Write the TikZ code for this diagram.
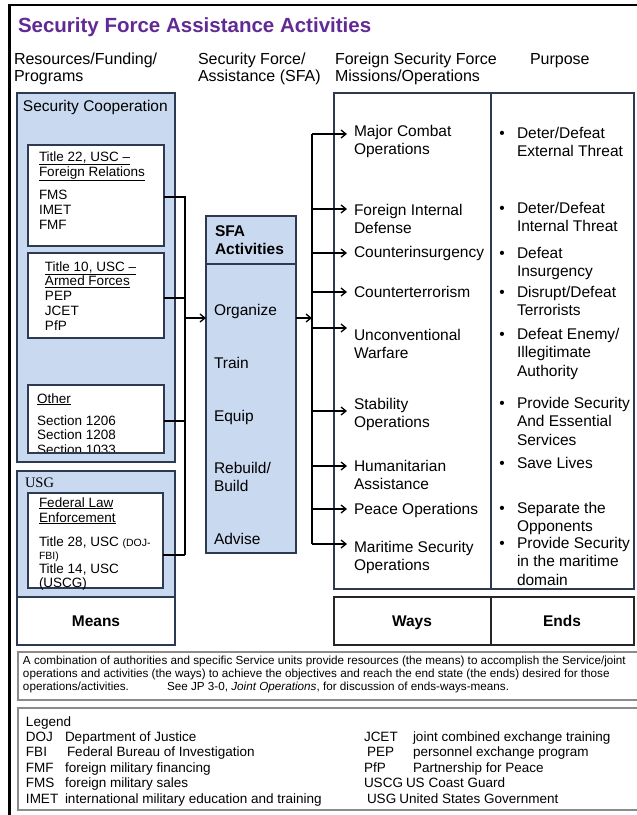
\documentclass[tikz,border=0pt]{standalone}
\usepackage{fontspec}
\setmainfont{Liberation Sans}
\newfontfamily\seriffam{Liberation Serif}
\usetikzlibrary{arrows.meta}
\definecolor{sfablue}{RGB}{200,217,240}
\definecolor{sfaedge}{RGB}{45,58,82}
\definecolor{sfapurple}{RGB}{98,42,148}
\definecolor{notegray}{RGB}{140,140,140}
\newcommand\fsz[2]{\fontsize{#1}{#2}\selectfont}
\newcommand\lns[1]{\begin{tabular}[t]{@{}l@{}}#1\end{tabular}}
\tikzset{
 txt/.style={anchor=base west, inner sep=0pt, outer sep=0pt, font=\fsz{15.5}{18.5}},
 smalltxt/.style={txt, font=\fsz{13.5}{15}},
 boxnode/.style={anchor=north west, inner sep=0pt, outer sep=0pt, line width=1.2pt, draw=sfaedge},
 bluebox/.style={boxnode, fill=sfablue},
 whitebox/.style={boxnode, fill=white},
 conn/.style={line width=1.6pt, draw=black},
 arr/.style={conn, -{Straight Barb[length=5pt, width=8pt, line width=1.3pt]}},
 notebox/.style={anchor=north west, inner sep=0pt, draw=notegray, line width=1.6pt, fill=white},
}
\begin{document}
\begin{tikzpicture}[x=1pt,y=-1pt]
\useasboundingbox (0,0) rectangle (637,815);
\fill[white] (0,0) rectangle (637,815);
% outer frame
\draw[line width=2.5pt] (9.5,815) -- (9.5,5) -- (637,5);

% title and headers
\node[txt, font=\fsz{20.5}{24}\bfseries, text=sfapurple] (title) at (18,32) {Security Force Assistance Activities};
\node[txt, font=\fsz{16}{17.5}] (h1) at (14,64) {\lns{Resources/Funding/\\Programs}};
\node[txt, font=\fsz{16}{17.5}] (h2) at (198,64) {\lns{Security Force/\\Assistance (SFA)}};
\node[txt, font=\fsz{16}{17.5}] (h3) at (335,64) {\lns{Foreign Security Force\\Missions/Operations}};
\node[txt, font=\fsz{16}{17.5}] (h4) at (530,64) {Purpose};

% left column: means
\node[bluebox, minimum width=158pt, minimum height=369pt] (scbox) at (17,93) {};
\node[txt] (sctxt) at (23,111) {Security Cooperation};
\node[whitebox, minimum width=136pt, minimum height=101pt] (t22) at (28,145) {};
\node[smalltxt] (t22txt) at (39,161) {\lns{\underline{Title 22, USC –}\\\underline{Foreign Relations}\\[8.5pt]FMS\\IMET\\FMF}};
\node[whitebox, minimum width=136pt, minimum height=85pt] (t10) at (28,253) {};
\node[smalltxt, font=\fsz{13.5}{14.75}] (t10txt) at (45,271) {\lns{\underline{Title 10, USC –}\\\underline{Armed Forces}\\PEP\\JCET\\PfP}};
\node[whitebox, minimum width=136pt, minimum height=68pt] (oth) at (28,385) {};
\node[smalltxt] (othtxt) at (37,403) {\underline{Other}};
\begin{scope}
\clip (28.6,385.6) rectangle (163.4,452.4);
\node[smalltxt, font=\fsz{13.5}{14.5}] (sectxt) at (37,425) {\lns{Section 1206\\Section 1208\\Section 1033}};
\end{scope}
\draw[sfaedge, line width=1.2pt] (oth.north west) rectangle (oth.south east);

\node[bluebox, minimum width=158pt, minimum height=126pt] (usg) at (17,471) {};
\node[txt, font=\seriffam\fsz{14.5}{16}] (usgtxt) at (25,487) {USG};
\node[whitebox, minimum width=135pt, minimum height=95pt] (fed) at (28,493) {};
\node[smalltxt] (fedA) at (39,507) {\lns{\underline{Federal Law}\\\underline{Enforcement}}};
\node[smalltxt, font=\fsz{13.5}{13.5}] (fedB) at (39,546) {\lns{Title 28, USC {\fsz{10.5}{12}(DOJ-}\\{\fsz{10.5}{12}FBI)}\\Title 14, USC\\(USCG)}};
\node[whitebox, minimum width=158pt, minimum height=48pt] (means) at (17,597) {};
\node[txt, anchor=base, font=\fsz{15.5}{18}\bfseries] (meanstxt) at (96,626) {Means};

% connectors from means to SFA
\coordinate (busA) at (185,555);
\coordinate (busIn) at (185,318);
\draw[conn] ([yshift=-1.5pt]t22.east) -| (busA);
\draw[conn] ([yshift=-2.5pt]t10.east) -- ([yshift=-2.5pt]t10.east -| busA);
\draw[conn] ([yshift=-2pt]oth.east) -- ([yshift=-2pt]oth.east -| busA);
\draw[conn] ([yshift=-14.5pt]fed.east) -- (busA);

% SFA box
\node[bluebox, minimum width=90pt, minimum height=337pt] (sfa) at (206,216) {};
\coordinate (sep) at (0,264);
\draw[sfaedge, line width=1.2pt] (sfa.west |- sep) -- (sfa.east |- sep);
\node[txt, font=\fsz{15.5}{18}\bfseries] (sfahead) at (215,236.5) {\lns{SFA\\Activities}};
\node[txt] (org) at (214,315.5) {Organize};
\node[txt] (trn) at (214,368.5) {Train};
\node[txt] (eqp) at (214,421.5) {Equip};
\node[txt, font=\fsz{15.5}{18}] (reb) at (214,473.5) {\lns{Rebuild/\\Build}};
\node[txt] (adv) at (214,544.5) {Advise};
\draw[arr] (busIn) -- (busIn -| sfa.west);

% ways / ends boxes
\node[boxnode, minimum width=157pt, minimum height=496pt] (ways) at (334,93) {};
\node[boxnode, minimum width=143pt, minimum height=496pt] (ends) at (491,93) {};
\node[boxnode, draw=black!85, minimum width=157pt, minimum height=48pt] (ways2) at (334,597) {};
\node[boxnode, draw=black!85, minimum width=143pt, minimum height=48pt] (ends2) at (491,597) {};
\node[txt, anchor=base, font=\fsz{15.5}{18}\bfseries] (waystxt) at (412,626) {Ways};
\node[txt, anchor=base, font=\fsz{15.5}{18}\bfseries] (endstxt) at (562,626) {Ends};

% SFA to ways bus
\coordinate (busB) at (312,318);
\coordinate (busTop) at (312,134);
\coordinate (busBot) at (312,544);
\draw[arr] (sfa.east |- busB) -- (busB);
\draw[conn] (busTop) -- (busBot);
\foreach \yy [count=\i] in {134,209,253,292,328,411,466,509,544}{
  \coordinate (tip\i) at (347,\yy);
  \draw[arr] (busTop |- tip\i) -- (tip\i);
}

% ways texts
\node[txt] (w1) at (354,136) {\lns{Major Combat\\Operations}};
\node[txt] (w2) at (354,215) {\lns{Foreign Internal\\Defense}};
\node[txt] (w3) at (354,257.5) {Counterinsurgency};
\node[txt] (w4) at (354,297.5) {Counterterrorism};
\node[txt] (w5) at (354,340) {\lns{Unconventional\\Warfare}};
\node[txt] (w6) at (354,409) {\lns{Stability\\Operations}};
\node[txt] (w7) at (354,471) {\lns{Humanitarian\\Assistance}};
\node[txt] (w8) at (354,514.5) {Peace Operations};
\node[txt] (w9) at (354,552) {\lns{Maritime Security\\Operations}};

% purpose texts
\node[txt] (p1) at (517,138) {\lns{Deter/Defeat\\External Threat}};
\node[txt] (p2) at (517,213) {\lns{Deter/Defeat\\Internal Threat}};
\node[txt] (p3) at (517,258) {\lns{Defeat\\Insurgency}};
\node[txt] (p4) at (517,297) {\lns{Disrupt/Defeat\\Terrorists}};
\node[txt] (p5) at (517,339) {\lns{Defeat Enemy/\\Illegitimate\\Authority}};
\node[txt] (p6) at (517,408) {\lns{Provide Security\\And Essential\\Services}};
\node[txt] (p7) at (517,468) {Save Lives};
\node[txt] (p8) at (517,513) {\lns{Separate the\\Opponents}};
\node[txt] (p9) at (517,548) {\lns{Provide Security\\in the maritime\\domain}};
\foreach \yy [count=\i] in {138,213,258,297,339,408,468,513,548}{
  \node[txt, anchor=base] (bul\i) at (502,\yy) {\textbullet};
}

% note box
\node[notebox, minimum width=630pt, minimum height=48pt] (notebx) at (17,651) {};
\node[txt, font=\fsz{11.7}{13}] (notea) at (23,664.5) {\lns{A combination of authorities and specific Service units provide resources (the means) to accomplish the Service/joint\\operations and activities (the ways) to achieve the objectives and reach the end state (the ends) desired for those\\operations/activities.}};
\node[txt, font=\fsz{11.7}{13}] (noteb) at (167,690.5) {See JP 3-0, \textit{Joint Operations}, for discussion of ends-ways-means.};

% legend box
\node[notebox, minimum width=630pt, minimum height=102pt] (legbx) at (17,707) {};
\node[txt, font=\fsz{13.5}{15.5}] (leghead) at (26,726) {Legend};
\node[txt, font=\fsz{13.5}{15.5}] (legA) at (26,741) {\lns{DOJ\\FBI\\FMF\\FMS\\IMET}};
\node[txt, font=\fsz{13.5}{15.5}] (legB) at (65,741) {\lns{Department of Justice\\\hspace{2pt}Federal Bureau of Investigation\\foreign military financing\\foreign military sales\\international military education and training}};
\node[txt, font=\fsz{13.5}{15.5}] (legC) at (364,741) {\lns{JCET\\\hspace{3pt}PEP\\PfP\\USCG\hspace{3pt}US Coast Guard\\\hspace{3pt}USG\hspace{3pt}United States Government}};
\node[txt, font=\fsz{13.5}{15.5}] (legD) at (413,741) {\lns{joint combined exchange training\\personnel exchange program\\Partnership for Peace}};
\end{tikzpicture}
\end{document}
